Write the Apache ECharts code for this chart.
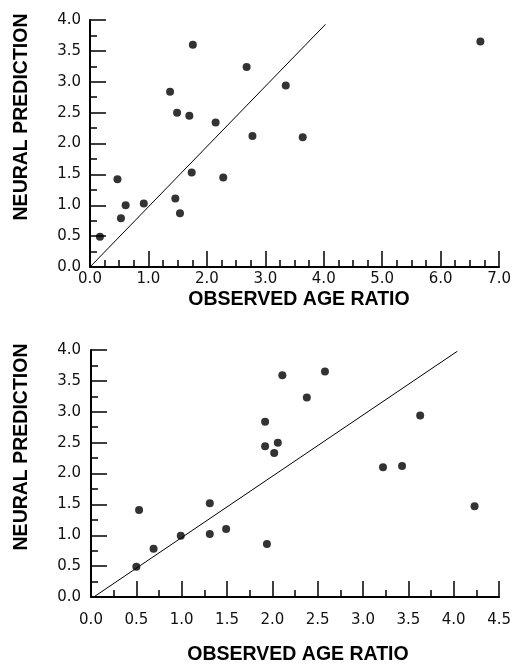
<!DOCTYPE html>
<html lang="en">
<head>
    <meta charset="UTF-8">
    <title>Neural prediction vs observed age ratio</title>
    <script src="https://cdn.jsdelivr.net/npm/echarts@6/dist/echarts.min.js"></script>
    <style>
        html, body { margin: 0; padding: 0; background: #fff; }
    </style>
</head>
<body>
<div id="main" style="width: 514px; height: 666px;"></div>
<script>
    // top panel
    var topX = [0.17, 0.47, 0.53, 0.61, 0.92, 1.37, 1.49, 1.46, 1.54, 1.70, 1.76, 1.74, 2.15, 2.28, 2.68, 2.78, 3.35, 3.64, 6.68];
    var topY = [0.49, 1.42, 0.79, 1.00, 1.03, 2.84, 2.50, 1.11, 0.87, 2.45, 3.60, 1.53, 2.34, 1.45, 3.24, 2.12, 2.94, 2.10, 3.65];
    var topLineX = [0, 4.03];
    var topLineY = [0, 3.93];
    var topXTicks = [0, 1, 2, 3, 4, 5, 6, 7];

    // bottom panel
    var botX = [0.50, 0.53, 0.69, 0.99, 1.31, 1.31, 1.49, 1.92, 1.92, 1.94, 2.02, 2.06, 2.11, 2.38, 2.58, 3.22, 3.43, 3.63, 4.23];
    var botY = [0.49, 1.41, 0.78, 0.99, 1.52, 1.02, 1.10, 2.84, 2.44, 0.86, 2.33, 2.50, 3.59, 3.23, 3.65, 2.10, 2.12, 2.94, 1.47];
    var botLineX = [0.03, 4.04];
    var botLineY = [0, 3.98];
    var botXTicks = [0, 0.5, 1, 1.5, 2, 2.5, 3, 3.5, 4, 4.5];

    var yTicks = [0, 0.5, 1, 1.5, 2, 2.5, 3, 3.5, 4];

    var xName = 'OBSERVED AGE RATIO';
    var yName = 'NEURAL PREDICTION';

    function pairs(xs, ys) {
        return xs.map(function (x, i) { return [x, ys[i]]; });
    }

    function valueAxis(idx, ticks, minorSplit, labelMargin) {
        return {
            type: 'value',
            gridIndex: idx,
            min: ticks[0],
            max: ticks[ticks.length - 1],
            interval: ticks[1] - ticks[0],
            axisLine: { show: true, lineStyle: { color: '#000', width: 2 } },
            axisTick: { show: true, inside: true, length: 16, lineStyle: { color: '#000', width: 1.5 } },
            minorTick: { show: true, splitNumber: minorSplit, length: 7, lineStyle: { color: '#000', width: 1.5 } },
            splitLine: { show: false },
            axisLabel: {
                margin: labelMargin,
                fontFamily: 'DejaVu Sans',
                fontSize: 15,
                color: '#111',
                formatter: function (v) { return v.toFixed(1); }
            }
        };
    }

    var mychart = echarts.init(document.getElementById('main'));

    var titleStyle = { fontFamily: 'Liberation Sans', fontSize: 19.5, fontWeight: 'bold', fill: '#000', align: 'center', verticalAlign: 'middle' };

    mychart.setOption({
        animation: false,
        backgroundColor: '#fff',
        grid: [
            { left: 90, top: 20, width: 411, height: 247 },
            { left: 91, top: 350, width: 413, height: 247 }
        ],
        xAxis: [
            valueAxis(0, topXTicks, 4, 5),
            valueAxis(1, botXTicks, 2, 16)
        ],
        yAxis: [
            valueAxis(0, yTicks, 2, 9),
            valueAxis(1, yTicks, 2, 10)
        ],
        graphic: [
            { type: 'text', x: 299, y: 300, style: Object.assign({ text: xName }, titleStyle) },
            { type: 'text', x: 298, y: 655, style: Object.assign({ text: xName }, titleStyle) },
            { type: 'text', x: 22, y: 117, rotation: Math.PI / 2, style: Object.assign({ text: yName }, titleStyle) },
            { type: 'text', x: 22, y: 447, rotation: Math.PI / 2, style: Object.assign({ text: yName }, titleStyle) }
        ],
        series: [
            {
                type: 'scatter', xAxisIndex: 0, yAxisIndex: 0,
                symbolSize: 8, itemStyle: { color: '#000' },
                data: pairs(topX, topY)
            },
            {
                type: 'line', xAxisIndex: 0, yAxisIndex: 0,
                symbol: 'none', lineStyle: { color: '#000', width: 1 },
                data: pairs(topLineX, topLineY)
            },
            {
                type: 'scatter', xAxisIndex: 1, yAxisIndex: 1,
                symbolSize: 8, itemStyle: { color: '#000' },
                data: pairs(botX, botY)
            },
            {
                type: 'line', xAxisIndex: 1, yAxisIndex: 1,
                symbol: 'none', lineStyle: { color: '#000', width: 1 },
                data: pairs(botLineX, botLineY)
            }
        ]
    });
</script>
</body>
</html>
